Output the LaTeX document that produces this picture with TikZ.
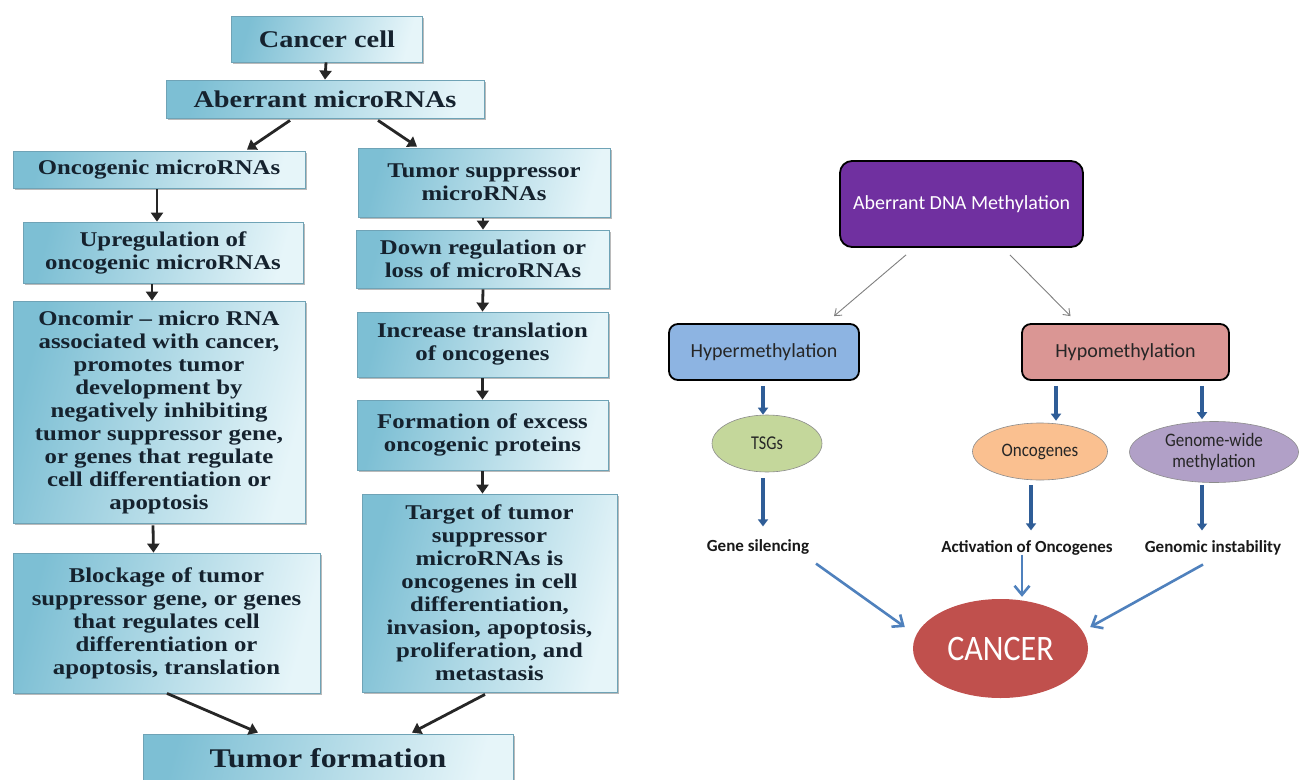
\documentclass[tikz,border=0pt]{standalone}
\usepackage{fontspec}
\newfontfamily\lserif{Liberation Serif}[FakeStretch=1.18]
\newfontfamily\calib{Carlito}
\usetikzlibrary{arrows.meta,shadows,shapes.geometric,calc}
\definecolor{bxd}{HTML}{7DBFD4}
\definecolor{bxl}{HTML}{E6F5F9}
\definecolor{bxe}{HTML}{6FA3B6}
\definecolor{txt}{HTML}{15222E}
\definecolor{purp}{HTML}{7030A0}
\definecolor{hyperc}{HTML}{8DB4E2}
\definecolor{hypoc}{HTML}{DA9694}
\definecolor{tsgc}{HTML}{C4D79B}
\definecolor{oncoc}{HTML}{FAC090}
\definecolor{genc}{HTML}{B1A0C7}
\definecolor{cancc}{HTML}{C0504D}
\definecolor{darrow}{HTML}{2F5D97}
\definecolor{larrow}{HTML}{4F81BD}
\tikzset{
  lbox/.style={draw=bxe, line width=0.8pt, left color=bxd, right color=bxl, shading angle=75,
    drop shadow={shadow xshift=1.5pt, shadow yshift=-1.5pt, opacity=0.45, fill=black!60},
    inner sep=2pt, align=center, text=txt,
    font=\lserif\bfseries\fontsize{21}{23}\selectfont},
  larr/.style={line width=2.8pt, black!85, -{Triangle[length=9pt,width=12pt]}},
  rbox/.style={draw=black, line width=1.8pt, rounded corners=9pt, inner sep=2pt,
    font=\calib\fontsize{20}{22}\selectfont, text=black!85},
  ell/.style={ellipse, draw=black!45, line width=0.6pt, inner sep=0pt,
    font=\calib\fontsize{17}{19}\selectfont, align=center, text=black!85},
  lab/.style={inner sep=1pt, font=\calib\bfseries\fontsize{17}{19}\selectfont, text=black!90},
  darr/.style={line width=3.6pt, darrow, -{Triangle[length=7pt,width=10pt]}},
  garr/.style={line width=0.9pt, black!50, -{Straight Barb[length=6pt,width=9pt]}},
  barr/.style={line width=2.6pt, larrow, -{Straight Barb[length=9pt,width=15pt]}},
}
\begin{document}
\begin{tikzpicture}[x=1pt,y=-1pt]
\useasboundingbox[fill=white] (0,0) rectangle (1303,779);
% ---------------- left flowchart ----------------
\node[lbox, minimum width=191pt, minimum height=46pt, font=\lserif\bfseries\fontsize{24}{26}\selectfont] (cc) at (327,39) {Cancer cell};
\node[lbox, minimum width=318pt, minimum height=38pt, font=\lserif\bfseries\fontsize{24}{26}\selectfont] (ab) at (325,99) {Aberrant microRNAs};
\node[lbox, minimum width=292pt, minimum height=37pt] (onc) at (159,169.5) {Oncogenic microRNAs};
\node[lbox, minimum width=252pt, minimum height=69pt] (tsup) at (484,182.5) {Tumor suppressor\\microRNAs};
\node[lbox, minimum width=280pt, minimum height=61pt] (up) at (163,252.5) {Upregulation of\\oncogenic microRNAs};
\node[lbox, minimum width=253pt, minimum height=58pt] (down) at (483,259) {Down regulation or\\loss of microRNAs};
\node[lbox, minimum width=292pt, minimum height=222pt] (omir) at (159,412) {Oncomir – micro RNA\\associated with cancer,\\promotes tumor\\development by\\negatively inhibiting\\tumor suppressor gene,\\or genes that regulate\\cell differentiation or\\apoptosis};
\node[lbox, minimum width=251pt, minimum height=65pt] (incr) at (482.5,344.5) {Increase translation\\of oncogenes};
\node[lbox, minimum width=251pt, minimum height=70pt] (form) at (482.5,435) {Formation of excess\\oncogenic proteins};
\node[lbox, minimum width=307pt, minimum height=140pt] (block) at (166.5,623) {Blockage of tumor\\suppressor gene, or genes\\that regulates cell\\differentiation or\\apoptosis, translation};
\node[lbox, minimum width=255pt, minimum height=198pt] (targ) at (489.5,593) {Target of tumor\\suppressor\\microRNAs is\\oncogenes in cell\\differentiation,\\invasion, apoptosis,\\proliferation, and\\metastasis};
\node[lbox, minimum width=370pt, minimum height=48pt, font=\lserif\bfseries\fontsize{27}{29}\selectfont] (tumor) at (328,758) {Tumor formation};

\draw[larr] ([xshift=-1pt]cc.south) -- (ab.north);
\draw[larr] ($(ab.south)+(-35,2)$) -- ($(onc.north)+(88,-1)$);
\draw[larr] ($(ab.south)+(53,2)$) -- ($(tsup.north)+(-67,-1)$);
\draw[larr] ($(onc.south)+(-2,1)$) -- ($(up.north)+(-6,0)$);
\draw[larr] ($(up.south)+(-11,1)$) -- ($(omir.north)+(-7,0)$);
\draw[larr] ($(tsup.south)+(-1,1)$) -- ($(down.north)+(0,0)$);
\draw[larr] ($(down.south)+(0,1)$) -- (incr.north);
\draw[larr] ($(incr.south)+(0,1)$) -- (form.north);
\draw[larr] ($(form.south)+(0,1)$) -- (form.south |- targ.north);
\draw[larr] ($(omir.south)+(-6,2)$) -- ($(block.north)+(-13,0)$);
\draw[larr] ($(block.south)+(0.5,0)$) -- ($(tumor.north)+(-70,-1)$);
\draw[larr] ($(targ.south)+(-4.5,2)$) -- ($(tumor.north)+(84,-1)$);

% ---------------- right diagram ----------------
\node[rbox, fill=purp, text=white, rounded corners=12pt, minimum width=243pt, minimum height=86pt] (meth) at (961.5,204) {Aberrant DNA Methylation};
\node[rbox, fill=hyperc, minimum width=190pt, minimum height=56pt] (hyper) at (764,352) {Hypermethylation};
\node[rbox, fill=hypoc, minimum width=207pt, minimum height=56pt] (hypo) at (1125.5,352) {Hypomethylation};
\node[ell, fill=tsgc, minimum width=110pt, minimum height=57pt, font=\calib\fontsize{17}{19}\selectfont] (tsg) at (767,443.5) {\scalebox{0.95}[1.15]{TSGs}};
\node[ell, fill=oncoc, minimum width=135pt, minimum height=57pt] (onco) at (1040,451.5) {\scalebox{1}[1.12]{Oncogenes}};
\node[ell, fill=genc, minimum width=169pt, minimum height=61pt, font=\calib\fontsize{17}{21}\selectfont] (gen) at (1214,452) {\scalebox{1}[1.12]{Genome-wide}\\\scalebox{1}[1.12]{methylation}};
\node[lab] (gs) at (758,547) {Gene silencing};
\node[lab] (act) at (1027,548) {Activation of Oncogenes};
\node[lab] (gi) at (1213,548) {Genomic instability};
\node[ellipse, fill=cancc, inner sep=0pt, minimum width=175pt, minimum height=99pt, text=white, font=\calib\fontsize{32}{34}\selectfont] (canc) at (1000.5,648.5) {\scalebox{1}[1.12]{CANCER}};

\draw[garr] ($(meth.south)+(-55.5,7)$) -- ($(hyper.north)+(70,-7)$);
\draw[garr] ($(meth.south)+(48.5,7)$) -- ($(hypo.north)+(-55,-7)$);

\draw[darr] ($(hyper.south)+(-1,5)$) -- ($(hyper.south |- tsg.north)+(-1,0)$);
\draw[darr] ($(hypo.south)+(-69.5,5)$) -- ($(hypo.south |- onco.north)+(-69.5,-2)$);
\draw[darr] ($(hypo.south)+(76.5,5)$) -- ($(hypo.south |- gen.north)+(76.5,-2)$);
\draw[darr] ($(tsg.south)+(-4,6)$) -- ($(gs.north)+(5,-12)$);
\draw[darr] ($(onco.south)+(-9,5)$) -- ($(act.north)+(4,-9)$);
\draw[darr] ($(gen.south)+(-12,2)$) -- ($(gi.north)+(-11,-9)$);

\draw[barr] ($(gs.south)+(58,8)$) -- ($(canc.west)+(-8,-21.5)$);
\draw[barr] ($(act.south)+(-5,-2)$) -- ($(act.south |- canc.north)+(-5,-2)$);
\draw[barr] ($(gi.south)+(-10,8)$) -- ($(canc.east)+(2,-21.5)$);
\end{tikzpicture}
\end{document}
